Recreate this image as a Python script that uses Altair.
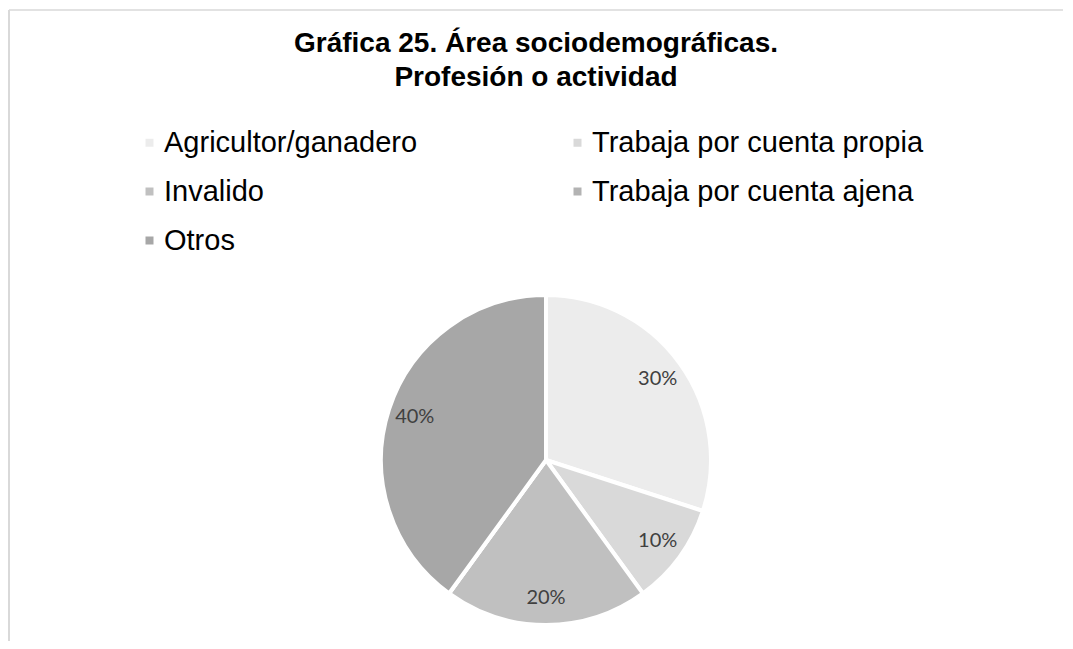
import altair as alt
import pandas as pd

categorias = ["Agricultor/ganadero", "Trabaja por cuenta propia", "Invalido",
              "Trabaja por cuenta ajena", "Otros"]
porcentajes = [30, 10, 20, 0, 40]
orden = [1, 2, 3, 4, 5]
grises = ["#ececec", "#d9d9d9", "#c0c0c0", "#b3b3b3", "#a7a7a7"]

titulo = ["Gráfica 25. Área sociodemográficas.", "Profesión o actividad"]

df = pd.DataFrame({
    "categoria": categorias,
    "valor": porcentajes,
    "orden": orden,
})
df["etiqueta"] = df["valor"].astype(str) + "%"

W, H = 1054, 631
CX, CY = 537, 450

color = alt.Color(
    "categoria:N",
    scale=alt.Scale(domain=categorias, range=grises),
    legend=alt.Legend(
        title=None,
        orient="none",
        direction="horizontal",
        legendX=126,
        legendY=118,
        columns=2,
        columnPadding=145,
        rowPadding=19,
        symbolType="square",
        symbolSize=64,
        symbolStrokeWidth=0,
        labelOffset=0,
        labelFont="Liberation Sans",
        labelFontSize=29,
        labelColor="#000000",
        labelLimit=600,
        padding=0,
    ),
)

base = alt.Chart(df)

pie = base.mark_arc(outerRadius=165, stroke="white", strokeWidth=4).encode(
    theta=alt.Theta("valor:Q", stack=True),
    order=alt.Order("orden:Q"),
    color=color,
    x=alt.value(CX),
    y=alt.value(CY),
)

labels = base.mark_text(
    radius=138, font="Lato", fontSize=20, color="#404040",
    align="center", baseline="middle",
).encode(
    theta=alt.Theta("valor:Q", stack=True),
    order=alt.Order("orden:Q"),
    text=alt.condition(alt.datum.valor > 0, "etiqueta:N", alt.value("")),
    x=alt.value(CX),
    y=alt.value(CY),
)

marco = pd.DataFrame({"a": [0]})
borde_sup = alt.Chart(marco).mark_rule(color="#d9d9d9", strokeWidth=1.5).encode(
    x=alt.value(0), x2=alt.value(W), y=alt.value(0)
)
borde_izq = alt.Chart(marco).mark_rule(color="#d9d9d9", strokeWidth=2).encode(
    x=alt.value(0), y=alt.value(0), y2=alt.value(H)
)

chart = alt.layer(borde_sup, borde_izq, pie, labels).properties(
    width=W,
    height=H,
    autosize=alt.AutoSizeParams(type="none"),
    padding={"left": 1, "top": 2, "right": 0, "bottom": 0},
    title=alt.TitleParams(
        text=titulo,
        font="Liberation Sans",
        fontSize=28,
        fontWeight="bold",
        color="#000000",
        lineHeight=34,
        anchor="middle",
        orient="top",
        frame="group",
        offset=0,
        baseline="top",
        dy=83,
    ),
).configure_view(stroke=None)

chart.save("out.html", embed_options={"renderer": "svg", "actions": False})
